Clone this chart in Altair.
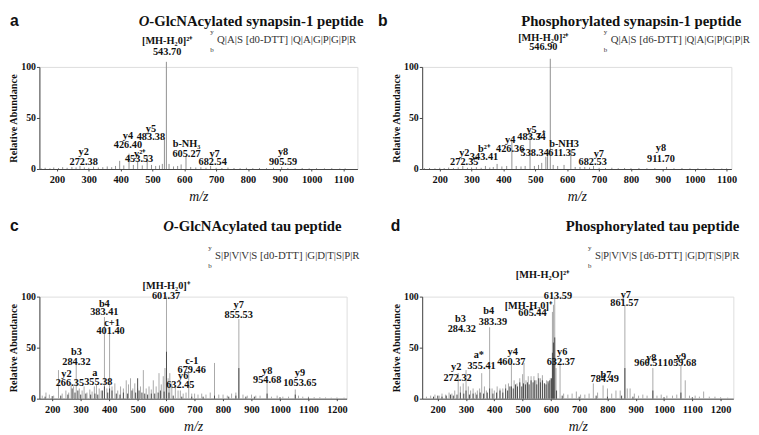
import altair as alt
import pandas as pd

SERIF = "Liberation Serif"
SANS = "Liberation Sans"
INK = "#111111"

# ---------------- data (m/z, relative abundance) ----------------
a_peaks = [(150,0.8),(163,1.2),(178,0.7),(190,1.5),(205,1.0),(218,1.8),(232,1.2),(247,2.0),(260,1.5),
           (272.38,3.0),(286,1.6),(300,1.2),(315,2.2),(330,1.5),(344,1.8),(358,2.5),(372,1.8),(384,3.0),
           (397,8.0),(410,3.5),(426.40,15.0),(440,4.0),(453.53,8.0),(468,3.5),(483.38,13.0),(497,4.0),
           (510,3.0),(522,3.5),(531,5.0),(537.5,30.0),(543.70,105.0),(552,5.0),(566,2.5),(579,3.0),
           (590,4.5),(605.27,12.0),(620,2.0),(636,1.5),(652,1.8),(668,1.2),(682.54,3.0),(700,1.2),
           (718,1.0),(737,1.4),(756,1.0),(775,0.8),(795,1.2),(815,0.8),(836,1.0),(858,0.9),(880,1.2),
           (905.59,2.0),(925,1.0),(948,0.8),(970,1.0),(992,0.7),(1015,0.8),(1040,0.6),(1063,0.8),
           (1088,0.5),(1105,0.6)]

b_peaks = [(152,0.8),(168,1.0),(185,0.7),(200,1.2),(214,0.9),(228,1.4),(243,1.0),(258,1.6),(272.35,3.0),
           (287,1.2),(300,1.5),(315,1.8),(330,1.2),(343.41,3.0),(357,1.5),(368,2.0),(380,5.0),(395,2.5),
           (410,3.0),(426.36,27.0),(440,3.0),(455,2.5),(468,3.0),(483.34,34.0),(497,3.0),(510,4.0),
           (520,6.0),(533,12.0),(538.34,14.0),(546.90,108.0),(556,4.0),(570,3.0),(590,4.0),(611.35,19.0),
           (625,2.0),(640,2.0),(655,2.0),(670,1.5),(682.53,3.0),(700,1.2),(720,1.0),(740,1.2),(760,0.8),
           (780,1.0),(800,0.8),(825,1.0),(850,0.8),(875,1.0),(911.70,2.0),(935,0.8),(960,1.0),(985,0.7),
           (1010,0.8),(1035,0.6),(1060,0.7),(1085,0.5),(1100,0.6)]

c_light = [(165,3),(178,6),(190,4),(205,3),(222,28),(235,5),(248,8),(258,6),(266.35,15),(275,12),
           (284.32,33),(295,10),(305,8),(312,12),(322,6),(332,9),(340,7),(348,12),(355.38,14),(365,10),
           (372,8),(383.41,80),(392,10),(401.40,65),(410,12),(420,15),(430,8),(440,12),(450,10),(460,18),
           (468,14),(475,20),(483,10),(490,15),(500,10),(510,12),(520,28),(530,10),(540,12),(548,9),
           (555,18),(565,12),(575,25),(583,14),(590,22),(596,30),(601.37,100),(607,20),(613,25),(620,15),
           (632.45,12),(642,8),(650,8),(660,5),(670,6),(679.46,27),(690,5),(700,5),(712,4),(725,5),
           (740,4),(755,6),(770,35),(785,4),(800,4),(815,3),(830,5),(845,6),(855.53,78),(870,4),(885,3),
           (900,4),(915,3),(930,3),(954.68,18),(970,2),(990,3),(1010,2),(1030,2),(1053.65,9),(1065,3),
           (1080,2),(1100,2),(1120,1.5),(1140,1.5),(1160,1.2),(1180,1),(1200,1.2),(1225,1)]
c_dark = [(175,2),(200,2.5),(230,3),(255,4),(270,10),(280,6),(290,8),(300,4),(318,5),(335,4),(350,5),
          (360,4),(376,8),(383.41,12),(395,6),(401.40,10),(410,8),(425,5),(438,4),(450,6),(465,5),(480,8),
          (493,6),(500,20),(505,8),(515,6),(525,5),(535,4),(548,5),(560,5),(572,6),(580,8),(593,7),
          (601.37,46),(610,6),(625,3),(655,2),(690,2),(730,2),(770,3),(820,2),(845,3),(855.53,30),(880,2),
          (910,2),(954.68,5),(1000,1.5),(1053.65,4),(1100,1)]

d_light = [(160,2),(175,3),(190,4),(205,3),(215,5),(228,4),(240,6),(250,5),(260,8),(272.32,25),(280,12),
           (290,15),(300,28),(308,12),(316,8),(325,10),(333,6),(340,8),(348,10),(355.41,25),(365,12),
           (372,8),(383.39,70),(392,10),(400,8),(410,12),(420,10),(430,10),(440,14),(450,15),(460.37,35),
           (470,18),(480,15),(490,20),(500,24),(505,35),(512,18),(520,22),(530,22),(540,22),(548,18),
           (555,25),(563,20),(570,23),(578,15),(585,18),(592,15),(598,20),(605.44,85),(609,92),
           (613.59,100),(618,30),(632.37,33),(645,5),(660,4),(675,5),(690,7),(705,4),(720,4),(735,5),
           (750,15),(765,6),(784.49,13),(800,10),(815,5),(830,8),(845,8),(861.57,92),(870,10),(880,10),
           (895,5),(910,3),(925,4),(940,3),(960.51,30),(975,3),(990,4),(1010,3),(1030,3),(1045,4),
           (1059.68,32),(1075,18),(1090,3),(1110,3),(1125,2),(1140,7),(1160,2),(1180,2),(1200,1.5),(1225,1)]
d_dark = [(185,2),(200,3),(215,2),(230,3),(245,4),(255,3),(268,4),(280,6),(292,5),(300,8),(312,4),(325,5),
          (338,4),(350,6),(362,5),(375,6),(383.39,10),(395,5),(408,6),(420,8),(430,6),(440,10),(447,8),
          (455,12),(460.37,12),(467,10),(475,14),(482,12),(490,16),(497,12),(503,15),(510,14),(517,16),
          (523,14),(530,18),(537,16),(543,18),(550,14),(557,20),(563,16),(570,18),(577,15),(583,14),
          (590,17),(596,18),(602,20),(605.44,45),(609,55),(613.59,60),(620,8),(640,3),(700,2),(760,3),
          (800,2),(850,3),(861.57,30),(890,2),(960.51,8),(1000,1.5),(1059.68,6),(1100,1.5)]

# ---------------- peak annotations: (m/z, text, level) ----------------
a_labels = [(546,"[MH-H₂0]²⁺",125),(546,"543.70",115),(495,"y5",39),(495,"483.38",31),
            (423,"y4",32),(423,"426.40",23),(460,"y²⁺",14.5),(458,"453.53",10),
            (284,"y2",17),(284,"272.38",6.5),(607,"b-NH₃",24),(607,"605.27",14.5),
            (695,"y7",14.5),(689,"682.54",7),(910,"y8",17),(910,"905.59",7)]
b_labels = [(525,"[MH-H₂0]²⁺",128),(525,"546.90",119),(488,"y5",38),(488,"483.34",31),
            (517,"z⁺",33),(498,"538.34",15.5),(590,"b-NH3",24),(584,"611.35",15.5),
            (421,"y4",28),(421,"426.36",20),(339,"b²⁺",20),(339,"343.41",12),
            (277,"y2",15.5),(277,"272.35",6.5),(699,"y7",14.5),(680,"682.53",7),
            (894,"y8",21),(894,"911.70",10)]
c_labels = [(600,"[MH-H₂0]⁺",110),(600,"601.37",101),(383,"b4",93),(383,"383.41",85),
            (410,"c+1",74),(405,"401.40",66),(855,"y7",92),(855,"855.53",82),
            (285,"b3",46),(285,"284.32",36),(250,"y2",24),(262,"266.35",15),
            (350,"a",25),(362,"355.38",16),(690,"c-1",37),(690,"679.46",28),
            (660,"y6",22),(650,"632.45",13),(955,"y8",27),(955,"954.68",18),
            (1070,"y9",25),(1070,"1053.65",15)]
d_labels = [(570,"[MH-H₂O]²⁺",121),(625,"613.59",101),(520,"[MH-H₂0]⁺",91),(535,"605.44",84),
            (380,"b4",86),(395,"383.39",75),(280,"b3",78),(285,"284.32",68),
            (865,"y7",102),(860,"861.57",94),(345,"a*",43),(355,"355.41",32),
            (465,"y4",46),(460,"460.37",36),(640,"y6",46),(635,"632.37",36),
            (265,"y2",31),(270,"272.32",20),(795,"b7",23),(790,"784.49",19),
            (955,"y8",40),(945,"960.51",35),(1060,"y9",41),(1055,"1059.68",35)]

ticks_ab = [200, 300, 400, 500, 600, 700, 800, 900, 1000, 1100]
ticks_cd = [200, 300, 400, 500, 600, 700, 800, 900, 1000, 1100, 1200]

titles = {
    "a": ("O", "-GlcNAcylated synapsin-1 peptide"),
    "b": ("", "Phosphorylated synapsin-1 peptide"),
    "c": ("O", "-GlcNAcylated tau peptide"),
    "d": ("", "Phosphorylated tau peptide"),
}
sequences = {
    "a": "Q|A|S [d0-DTT] |Q|A|G|P|G|P|R",
    "b": "Q|A|S [d6-DTT] |Q|A|G|P|G|P|R",
    "c": "S|P|V|V|S [d0-DTT] |G|D|T|S|P|R",
    "d": "S|P|V|V|S [d6-DTT] |G|D|T|S|P|R",
}

# ---------------- helpers ----------------
def static_text(txt, x, y, size, font=SERIF, weight="bold", style="normal", align="left",
                baseline="alphabetic", color=INK):
    return alt.Chart(pd.DataFrame({"t": [txt]})).mark_text(
        font=font, fontSize=size, fontWeight=weight, fontStyle=style, align=align,
        baseline=baseline, color=color
    ).encode(x=alt.value(x), y=alt.value(y), text="t:N")


def panel(key, light, dark, labels, xdom, ticks, width, letter_x, row_off,
          title_right, seq_x, seq_y):
    xs = alt.Scale(domain=xdom, nice=False, zero=False)
    ys = alt.Scale(domain=[0, 100], nice=False)
    xaxis = alt.Axis(values=ticks, format="d", titleFont=SERIF, titleFontStyle="italic",
                     titleFontWeight="normal", titleFontSize=14, titleColor=INK, titlePadding=5,
                     labelFont=SERIF, labelFontWeight="bold", labelFontSize=10.5, labelColor=INK,
                     labelPadding=4, tickSize=2, tickColor="#444", domainColor="#444", grid=False,
                     labelFlush=False, labelOverlap=False)
    yaxis = alt.Axis(values=[0, 50, 100], format="d", titleFont=SERIF, titleFontWeight="bold",
                     titleFontSize=10.5, titleColor=INK, titlePadding=2, labelFont=SERIF,
                     labelFontWeight="bold", labelFontSize=10, labelColor=INK, labelPadding=1,
                     tickSize=3, tickColor="#444", domainColor="#444", grid=False)
    X = alt.X("mz:Q", scale=xs, axis=xaxis, title="m/z")
    Y = alt.Y("ab:Q", scale=ys, axis=yaxis, title="Relative Abundance")

    layers = [
        alt.Chart(pd.DataFrame(light, columns=["mz", "ab"])).mark_rule(
            color="#a8a8a8" if dark else "#8f8f8f", strokeWidth=1
        ).encode(x=X, y=Y, y2=alt.datum(0))
    ]
    if dark:
        layers.append(
            alt.Chart(pd.DataFrame(dark, columns=["mz", "ab"])).mark_rule(
                color="#4a4a4a", strokeWidth=1
            ).encode(x=X, y=Y, y2=alt.datum(0))
        )
    layers.append(
        alt.Chart(pd.DataFrame(labels, columns=["mz", "txt", "ab"])).mark_text(
            font=SERIF, fontWeight="bold", fontSize=10.5, baseline="middle", align="center", color=INK
        ).encode(x=X, y=Y, text="txt:N")
    )

    # panel letter and title
    title_y = row_off
    layers.append(static_text(key, letter_x, title_y, 16, font=SANS))
    o_part, rest = titles[key]
    if o_part:
        rest_w = title_right[1]
        x0 = title_right[0] - rest_w
        layers.append(static_text(rest, x0, title_y, 15, align="left"))
        layers.append(static_text(o_part, x0, title_y, 15, style="italic", align="right"))
    else:
        layers.append(static_text(rest, title_right[0], title_y, 15, align="right"))

    # peptide fragment map
    layers.append(static_text(sequences[key], seq_x, seq_y, 11, weight="normal",
                              baseline="middle", color="#333"))
    layers.append(static_text("y", seq_x - 7, seq_y - 9, 7, weight="normal", baseline="middle", color="#333"))
    layers.append(static_text("b", seq_x - 7, seq_y + 10, 7, weight="normal", baseline="middle", color="#333"))

    return alt.layer(*layers).properties(width=width, height=104)


pa = panel("a", a_peaks, None, a_labels, [145, 1143.5], ticks_ab, 324, -30, -42,
           (330, 218), 181, -27)
pb = panel("b", b_peaks, None, b_labels, [145, 1115], ticks_ab, 315, -45, -42,
           (325, 0), 192, -27)
pc = panel("c", c_light, c_dark, c_labels, [155, 1234], ticks_cd, 313, -30, -67,
           (308, 171), 179, -41)
pd_ = panel("d", d_light, d_dark, d_labels, [145, 1245], ticks_cd, 317, -32, -67,
            (323, 0), 176, -41)

chart = alt.concat(pa, pb, pc, pd_, columns=2, bounds="flush", align="none",
                   spacing={"row": 130, "column": 66}).properties(
    padding={"left": 0, "top": 0, "right": 0, "bottom": 0}
).configure_view(stroke=None).configure(background="white")

chart.save("out.html", embed_options={"renderer": "svg", "actions": False})
